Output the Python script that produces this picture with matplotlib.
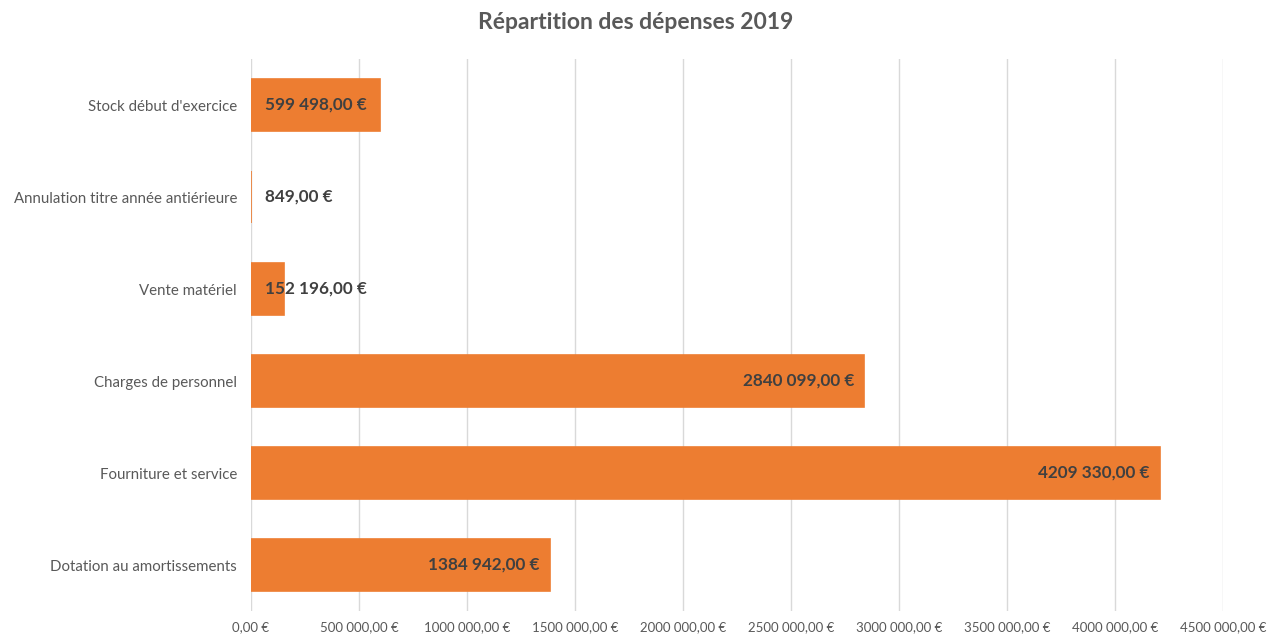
import matplotlib
matplotlib.use('Agg')
import matplotlib.pyplot as plt
from matplotlib.ticker import FuncFormatter

# Données du graphique (ordre de haut en bas)
categories = [
    "Stock début d'exercice",
    "Annulation titre année antiérieure",
    "Vente matériel",
    "Charges de personnel",
    "Fourniture et service",
    "Dotation au amortissements",
]
depenses = [599498, 849, 152196, 2840099, 4209330, 1384942]
x_ticks = [0, 500000, 1000000, 1500000, 2000000, 2500000, 3000000, 3500000, 4000000, 4500000]

plt.rcParams['font.family'] = ['Lato', 'DejaVu Sans']

orange = '#ED7D31'
gris_texte = '#595959'
gris_label = '#404040'


def euro(v, pos=None):
    s = f"{v:,.2f}".replace(",", " ").replace(".", ",")
    # Excel regroupe "4209 330,00" (pas d'espace pour le premier groupe de 4 chiffres)
    parts = s.split(" ")
    if len(parts) == 3:
        s = parts[0] + parts[1] + " " + parts[2]
    return s + " €"


fig = plt.figure(figsize=(12.72, 6.38), dpi=100)
ax = fig.add_axes([0.1973, 0.0423, 0.7642, 0.8652])

pos = list(range(len(categories)))
ax.barh(pos, depenses, height=0.57, color=orange, edgecolor=orange,
        linewidth=1.2, zorder=2)
ax.set_ylim(len(categories) - 0.5, -0.5)
ax.set_yticks(pos)
ax.set_yticklabels(categories, fontsize=10.8, color=gris_texte)

ax.set_xlim(0, 4500000)
ax.set_xticks(x_ticks)
ax.xaxis.set_major_formatter(FuncFormatter(euro))
ax.tick_params(axis='x', length=0, pad=7, labelsize=9.5, labelcolor=gris_texte)
ax.tick_params(axis='y', length=0, pad=10)

ax.grid(axis='x', color='#D9D9D9', linewidth=1, zorder=0)
for sp in ax.spines.values():
    sp.set_visible(False)

# Étiquettes de données : à l'intérieur en bout de barre, sinon calées à gauche
for p, v in zip(pos, depenses):
    if v < 700000:
        ax.annotate(euro(v), (0, p), xytext=(10, 0), textcoords='offset points',
                    ha='left', va='center', fontsize=12.3, fontweight='bold',
                    color=gris_label, zorder=3)
    else:
        ax.annotate(euro(v), (v, p), xytext=(-7.5, 0), textcoords='offset points',
                    ha='right', va='center', fontsize=12.3, fontweight='bold',
                    color=gris_label, zorder=3)

fig.text(0.5, 0.965, "Répartition des dépenses 2019", ha='center', va='center',
         fontsize=16.5, fontweight='bold', color=gris_texte)

fig.savefig('out.png', dpi=100)
plt.close(fig)
